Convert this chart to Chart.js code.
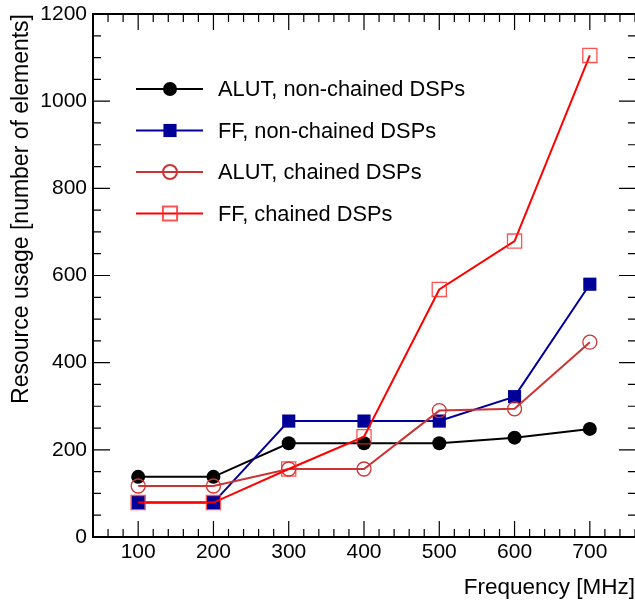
<!DOCTYPE html>
<html>
<head>
<meta charset="utf-8">
<script src="https://cdn.jsdelivr.net/npm/chart.js@4/dist/chart.umd.min.js"></script>
<style>
  html, body { margin: 0; padding: 0; background: #ffffff; }
  canvas { display: block; }
</style>
</head>
<body>
<canvas id="c" width="635" height="605"></canvas>
<script>
// ---- data ----
const frequency = [100, 200, 300, 400, 500, 600, 700];
const alutNonChained = [138, 138, 215, 215, 215, 228, 248];
const ffNonChained   = [79, 79, 266, 266, 266, 322, 580];
const alutChained    = [117, 117, 156, 156, 290, 294, 447];
const ffChained      = [79, 79, 156, 230, 568, 679, 1105];

const seriesNames = [
  'ALUT, non-chained DSPs',
  'FF, non-chained DSPs',
  'ALUT, chained DSPs',
  'FF, chained DSPs'
];
const xTickValues = [100, 200, 300, 400, 500, 600, 700];
const yTickValues = [0, 200, 400, 600, 800, 1000, 1200];
const xRange = [40, 760];
const yRange = [0, 1200];
const xMinorStep = 20;
const yMinorStep = 50;

const FONT = '"Liberation Sans", Arial, Helvetica, sans-serif';

function toPoints(ys) { return frequency.map((x, i) => ({ x: x, y: ys[i] })); }

const styles = [
  { color: '#000000', fill: '#000000', style: 'circle', radius: 7,   bw: 0,   lw: 2 },
  { color: '#000099', fill: '#000099', style: 'rect',   radius: 9.3, bw: 0,   lw: 2 },
  { color: '#cc3333', fill: 'rgba(0,0,0,0)', style: 'circle', radius: 7, bw: 1.3, lw: 2 },
  { color: '#ff0000', fill: 'rgba(0,0,0,0)', style: 'rect', radius: 10, bw: 1.3, lw: 2, pcolor: 'rgba(255,40,40,0.8)' }
];
const seriesData = [alutNonChained, ffNonChained, alutChained, ffChained];

const datasets = seriesData.map((ys, i) => {
  const s = styles[i];
  return {
    label: seriesNames[i],
    data: toPoints(ys),
    borderColor: s.color,
    backgroundColor: s.fill,
    borderWidth: s.lw,
    pointStyle: s.style,
    pointRadius: s.radius,
    pointHoverRadius: s.radius,
    pointBackgroundColor: s.fill,
    pointBorderColor: s.pcolor || s.color,
    pointBorderWidth: s.bw,
    tension: 0,
    fill: false,
    order: 4 - i
  };
});

// frame + inward ticks on all four sides (ROOT style)
const framePlugin = {
  id: 'frame',
  beforeDatasetsDraw(chart) {
    const { ctx, chartArea: a, scales } = chart;
    const xs = scales.x, ys = scales.y;
    ctx.save();
    ctx.strokeStyle = '#000';
    ctx.lineWidth = 1.2;
    ctx.beginPath();
    for (let v = xRange[0]; v <= xRange[1] + 1e-9; v += xMinorStep) {
      const px = xs.getPixelForValue(v);
      const len = xTickValues.includes(v) ? 16 : 8;
      ctx.moveTo(px, a.bottom); ctx.lineTo(px, a.bottom - len);
      ctx.moveTo(px, a.top); ctx.lineTo(px, a.top + len);
    }
    for (let v = yRange[0]; v <= yRange[1] + 1e-9; v += yMinorStep) {
      const py = ys.getPixelForValue(v);
      const len = yTickValues.includes(v) ? 17 : 8;
      ctx.moveTo(a.left, py); ctx.lineTo(a.left + len, py);
      ctx.moveTo(a.right + 1, py); ctx.lineTo(a.right + 1 - len, py);
    }
    ctx.stroke();
    // frame: the right edge of the frame falls just outside the picture
    ctx.lineWidth = 2;
    ctx.beginPath();
    ctx.moveTo(a.right + 2, a.top);
    ctx.lineTo(a.left, a.top);
    ctx.lineTo(a.left, a.bottom);
    ctx.lineTo(a.right + 2, a.bottom);
    ctx.stroke();
    ctx.restore();
  }
};

// ROOT-like legend: line through marker, then text
const legendPlugin = {
  id: 'rootLegend',
  afterDatasetsDraw(chart) {
    const ctx = chart.ctx;
    const rowsY = [89, 130.5, 172, 213.5];
    const x0 = 136, x1 = 203, xm = 170, xt = 218;
    ctx.save();
    chart.data.datasets.forEach((ds, i) => {
      const y = rowsY[i];
      ctx.strokeStyle = ds.borderColor;
      ctx.lineWidth = ds.borderWidth;
      ctx.beginPath(); ctx.moveTo(x0, y); ctx.lineTo(x1, y); ctx.stroke();
      ctx.fillStyle = ds.pointBackgroundColor;
      ctx.strokeStyle = ds.pointBorderColor;
      Chart.helpers.drawPoint(ctx, {
        pointStyle: ds.pointStyle,
        radius: ds.pointRadius,
        rotation: 0,
        borderWidth: ds.pointBorderWidth
      }, xm, y);
      ctx.fillStyle = '#000';
      ctx.font = '21.8px ' + FONT;
      ctx.textAlign = 'left';
      ctx.textBaseline = 'alphabetic';
      ctx.fillText(ds.label, xt, y + 7.4);
    });
    ctx.restore();
  }
};

new Chart(document.getElementById('c'), {
  type: 'line',
  data: { datasets: datasets },
  options: {
    responsive: false,
    animation: false,
    events: [],
    layout: { autoPadding: false, padding: { top: 14, right: 0, bottom: 0, left: 0 } },
    plugins: { legend: { display: false }, tooltip: { enabled: false } },
    scales: {
      x: {
        type: 'linear',
        min: xRange[0], max: xRange[1],
        afterBuildTicks: (axis) => { axis.ticks = xTickValues.map(v => ({ value: v })); },
        afterFit: (axis) => {
          axis.height = 68;
          axis.paddingLeft = 0; axis.paddingRight = 0;
          axis.paddingTop = 0; axis.paddingBottom = 0;
        },
        grid: { display: false, drawTicks: false },
        border: { display: false },
        ticks: {
          color: '#000', font: { family: FONT, size: 21 }, padding: 3,
          maxRotation: 0, autoSkip: false,
          callback: (v) => String(v)
        },
        title: {
          display: true, text: 'Frequency [MHz]', align: 'end', color: '#000',
          font: { family: FONT, size: 22.5 }, padding: { top: 0, bottom: 4 }
        }
      },
      y: {
        type: 'linear',
        min: yRange[0], max: yRange[1],
        afterBuildTicks: (axis) => { axis.ticks = yTickValues.map(v => ({ value: v })); },
        afterFit: (axis) => {
          axis.width = 93;
          axis.paddingLeft = 0; axis.paddingRight = 0;
          axis.paddingTop = 0; axis.paddingBottom = 0;
        },
        grid: { display: false, drawTicks: false },
        border: { display: false },
        ticks: {
          color: '#000', font: { family: FONT, size: 21 }, padding: 6,
          autoSkip: false,
          callback: (v) => String(v)
        },
        title: {
          display: true, text: 'Resource usage [number of elements]', align: 'end', color: '#000',
          font: { family: FONT, size: 23 }, padding: { top: 8, bottom: 0 }
        }
      }
    }
  },
  plugins: [framePlugin, legendPlugin]
});
</script>
</body>
</html>
